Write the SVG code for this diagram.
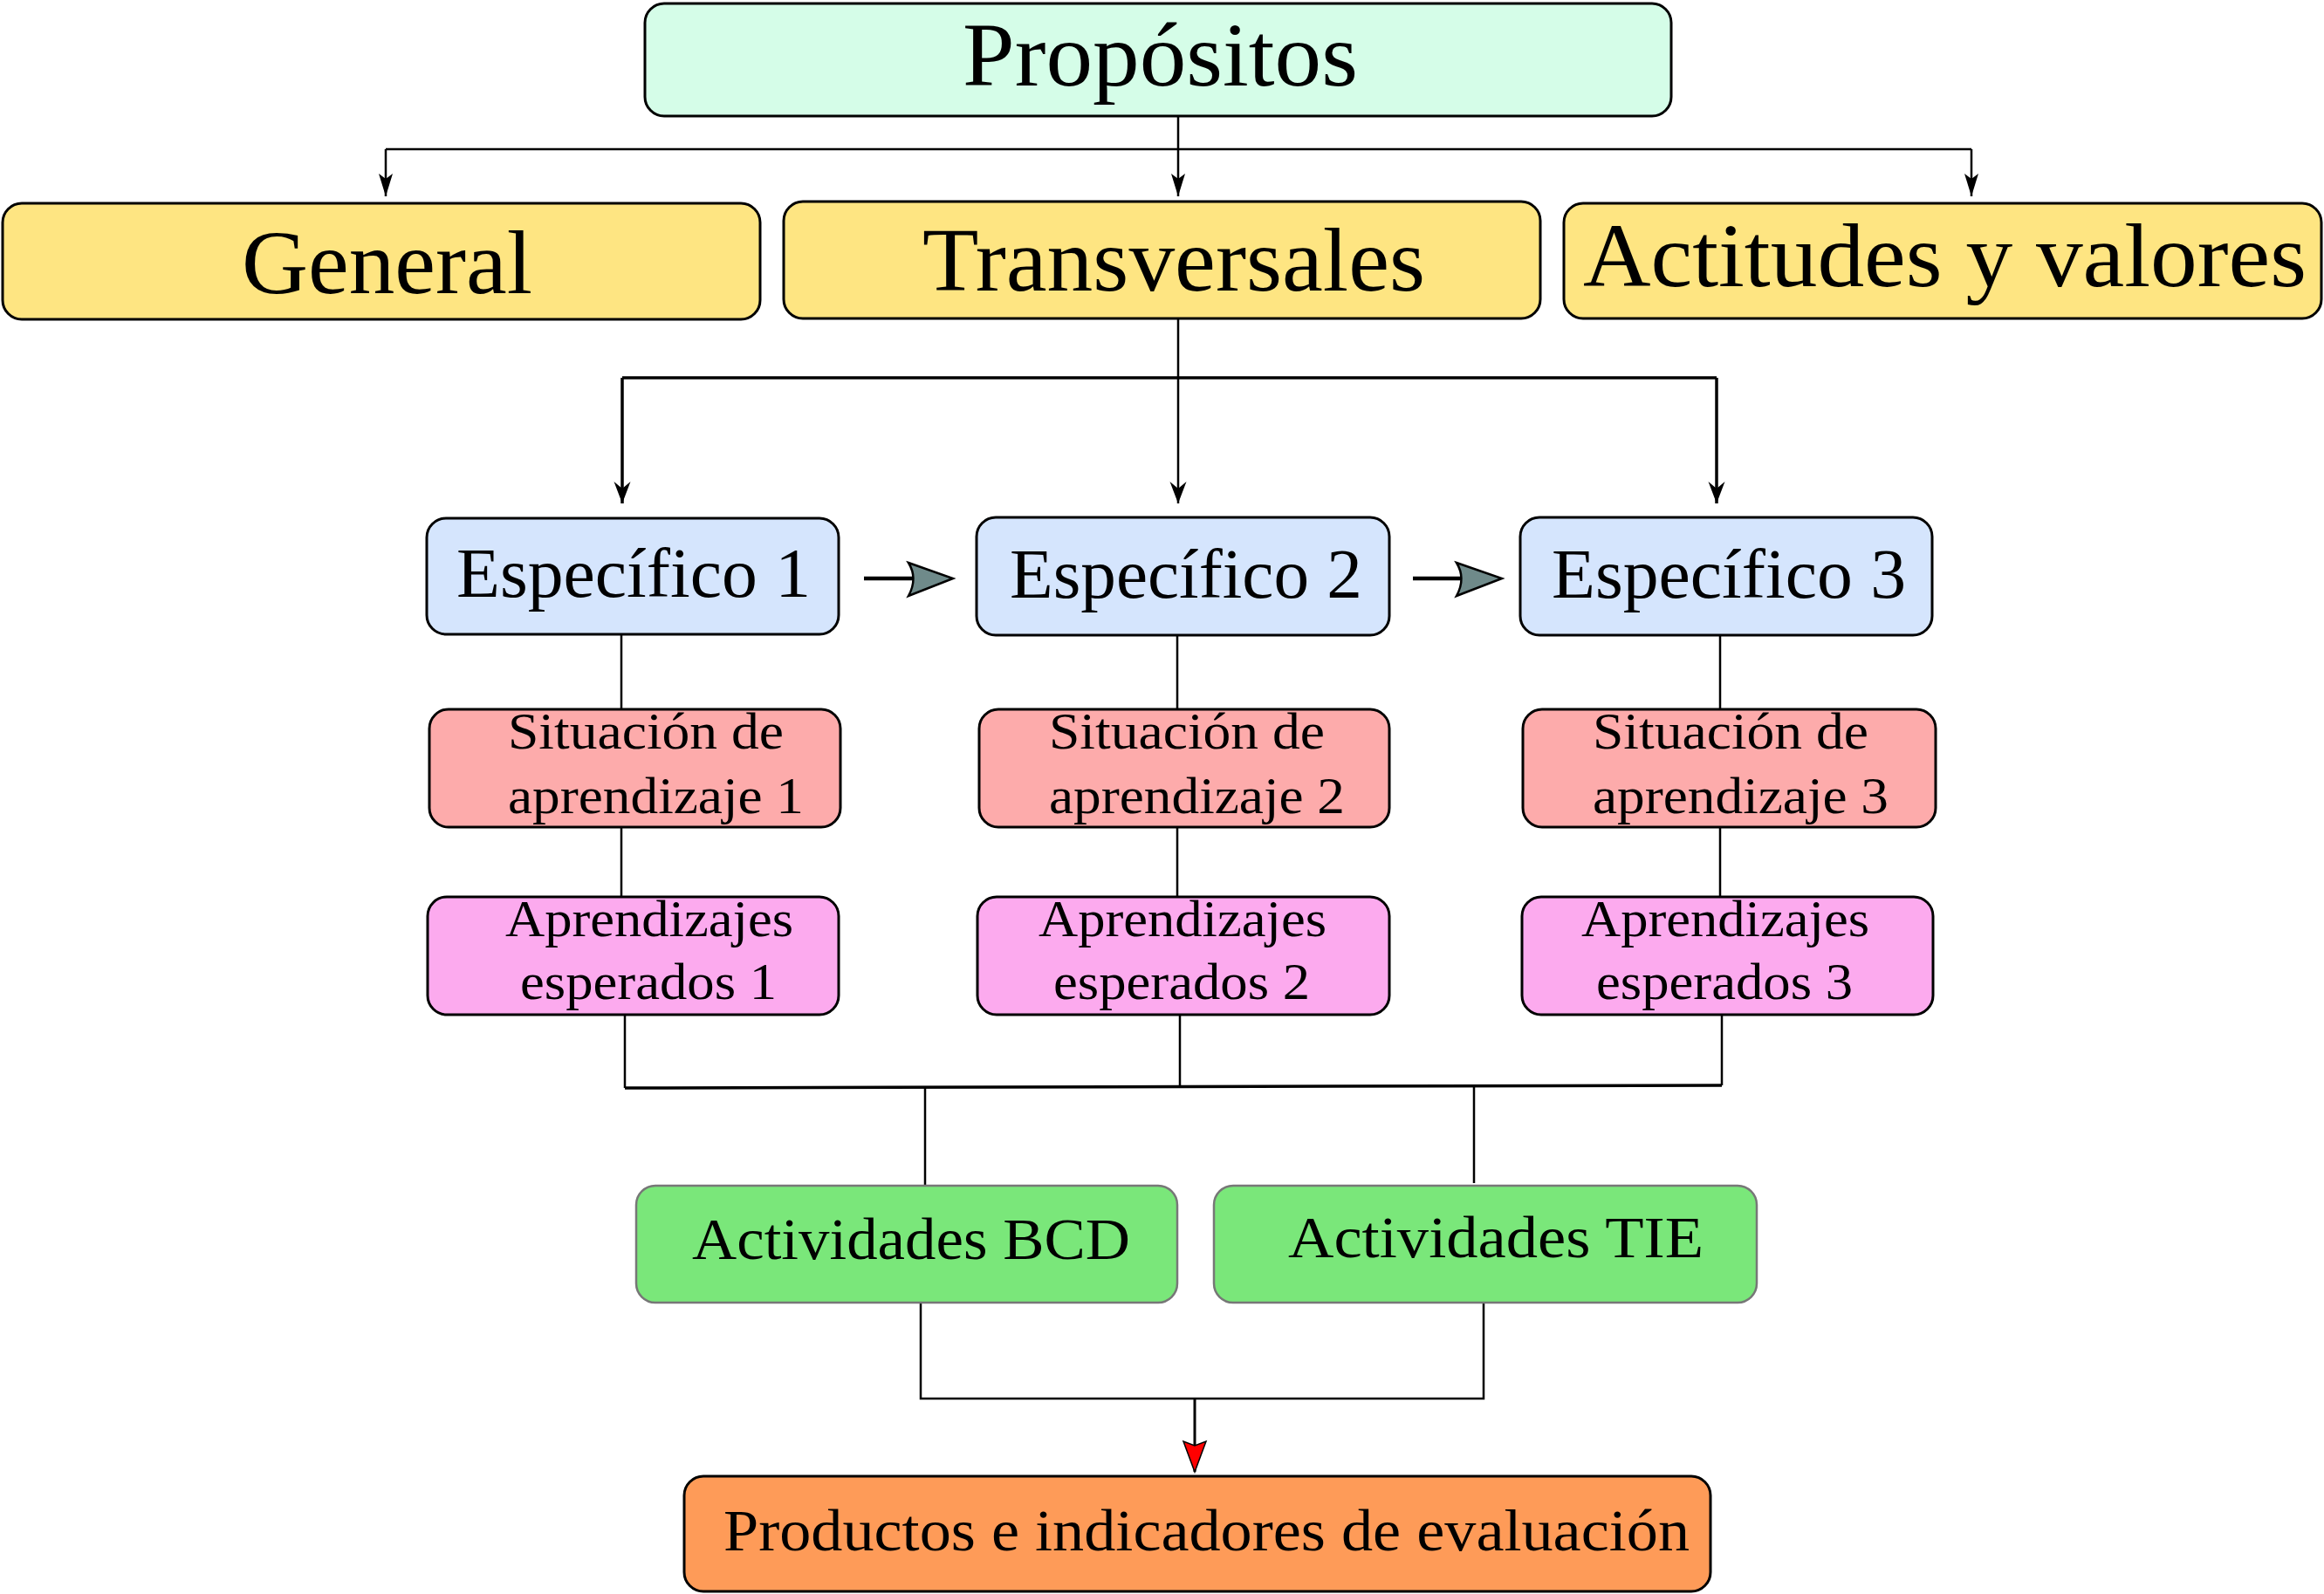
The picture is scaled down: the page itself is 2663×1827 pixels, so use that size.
<svg xmlns="http://www.w3.org/2000/svg" width="2663" height="1827" viewBox="0 0 2663 1827">
<style>
.box{stroke:#000;stroke-width:3}
.t{font-family:"Liberation Serif","Times New Roman",serif;fill:#000}
.big{font-size:103px}
.mid{font-size:80px}
.sm{font-size:60px}
.act{font-size:68px}
.ln{fill:none;stroke:#000;stroke-width:2.5}
.lnb{fill:none;stroke:#000;stroke-width:3.5}
</style>
<defs>
<marker id="a1" markerUnits="userSpaceOnUse" markerWidth="26" markerHeight="16" refX="26" refY="8" orient="auto" overflow="visible">
<path d="M0,0 L26,8 L0,16 L6,8 Z" fill="#000"/>
</marker>
<marker id="a2" markerUnits="userSpaceOnUse" markerWidth="25" markerHeight="19" refX="25" refY="9.5" orient="auto" overflow="visible">
<path d="M0,0 L25,9.5 L0,19 L8,9.5 Z" fill="#000"/>
</marker>
<marker id="ar" markerUnits="userSpaceOnUse" markerWidth="35" markerHeight="26" refX="35" refY="13" orient="auto" overflow="visible">
<path d="M0,0 L35,13 L0,26 L5,13 Z" fill="#ff0000" stroke="#000" stroke-width="1.5"/>
</marker>
</defs>

<g id="connectors">
<path class="ln" d="M1350,133 V225" marker-end="url(#a1)"/>
<path class="ln" d="M442,171 H2259"/>
<path class="ln" d="M442,171 V225" marker-end="url(#a1)"/>
<path class="ln" d="M2259,171 V225" marker-end="url(#a1)"/>

<path class="ln" d="M1350,365 V577" marker-end="url(#a2)"/>
<path class="lnb" d="M713,433 H1967"/>
<path class="lnb" d="M713,433 V577" marker-end="url(#a2)"/>
<path class="lnb" d="M1967,433 V577" marker-end="url(#a2)"/>

<path d="M990,663 H1046" stroke="#000" stroke-width="4.5" fill="none"/>
<path d="M1041,645 L1092,663 L1041,683 Q1052,663 1041,645 Z" fill="#6f8a8a" stroke="#000" stroke-width="2.5"/>
<path d="M1619,663 H1674" stroke="#000" stroke-width="4.5" fill="none"/>
<path d="M1669,645 L1721,663 L1669,683 Q1680,663 1669,645 Z" fill="#6f8a8a" stroke="#000" stroke-width="2.5"/>

<path class="ln" d="M712,728 V813 M712,948 V1028"/>
<path class="ln" d="M1349,728 V813 M1349,948 V1028"/>
<path class="ln" d="M1971,728 V813 M1971,948 V1028"/>

<path class="ln" d="M716,1163 V1247 M1352,1163 V1246 M1973,1163 V1244"/>
<path class="lnb" d="M716,1247 L1973,1244"/>
<path class="ln" d="M1060,1246 V1359 M1689,1245 V1356"/>

<path class="ln" d="M1055,1493 V1603 H1700 V1490"/>
<path d="M1369,1603 V1687" stroke="#000" stroke-width="3" fill="none" marker-end="url(#ar)"/>
</g>

<g id="propositos">
<rect class="box" x="739" y="4" width="1176" height="129" rx="22" fill="#d5fde8"/>
<text class="t big" x="1103" y="98" textLength="453" lengthAdjust="spacingAndGlyphs">Propósitos</text>
</g>
<g id="general">
<rect class="box" x="3" y="233" width="868" height="133" rx="22" fill="#fee582"/>
<text class="t big" x="277" y="336" textLength="333" lengthAdjust="spacingAndGlyphs">General</text>
</g>
<g id="transversales">
<rect class="box" x="898" y="231" width="867" height="134" rx="22" fill="#fee582"/>
<text class="t big" x="1057" y="333" textLength="576" lengthAdjust="spacingAndGlyphs">Transversales</text>
</g>
<g id="actitudes">
<rect class="box" x="1792" y="233" width="868" height="132" rx="22" fill="#fee582"/>
<text class="t big" x="1814" y="328" textLength="829" lengthAdjust="spacingAndGlyphs">Actitudes y valores</text>
</g>

<g id="especifico1">
<rect class="box" x="489" y="594" width="472" height="133" rx="22" fill="#d5e5fd"/>
<text class="t mid" x="523" y="684" textLength="406" lengthAdjust="spacingAndGlyphs">Específico 1</text>
</g>
<g id="especifico2">
<rect class="box" x="1119" y="593" width="473" height="135" rx="22" fill="#d5e5fd"/>
<text class="t mid" x="1157" y="685" textLength="404" lengthAdjust="spacingAndGlyphs">Específico 2</text>
</g>
<g id="especifico3">
<rect class="box" x="1742" y="593" width="472" height="135" rx="22" fill="#d5e5fd"/>
<text class="t mid" x="1778" y="685" textLength="406" lengthAdjust="spacingAndGlyphs">Específico 3</text>
</g>

<g id="situacion1">
<rect class="box" x="492" y="813" width="471" height="135" rx="22" fill="#fdabab"/>
<text class="t sm" x="582" y="858" textLength="316" lengthAdjust="spacingAndGlyphs">Situación de</text>
<text class="t sm" x="582" y="932" textLength="339" lengthAdjust="spacingAndGlyphs">aprendizaje 1</text>
</g>
<g id="situacion2">
<rect class="box" x="1122" y="813" width="470" height="135" rx="22" fill="#fdabab"/>
<text class="t sm" x="1202" y="858" textLength="316" lengthAdjust="spacingAndGlyphs">Situación de</text>
<text class="t sm" x="1202" y="932" textLength="339" lengthAdjust="spacingAndGlyphs">aprendizaje 2</text>
</g>
<g id="situacion3">
<rect class="box" x="1745" y="813" width="473" height="135" rx="22" fill="#fdabab"/>
<text class="t sm" x="1825" y="858" textLength="316" lengthAdjust="spacingAndGlyphs">Situación de</text>
<text class="t sm" x="1825" y="932" textLength="339" lengthAdjust="spacingAndGlyphs">aprendizaje 3</text>
</g>

<g id="aprendizajes1">
<rect class="box" x="490" y="1028" width="471" height="135" rx="22" fill="#fcaaee"/>
<text class="t sm" x="579" y="1073" textLength="330" lengthAdjust="spacingAndGlyphs">Aprendizajes</text>
<text class="t sm" x="596" y="1145" textLength="294" lengthAdjust="spacingAndGlyphs">esperados 1</text>
</g>
<g id="aprendizajes2">
<rect class="box" x="1120" y="1028" width="472" height="135" rx="22" fill="#fcaaee"/>
<text class="t sm" x="1190" y="1073" textLength="330" lengthAdjust="spacingAndGlyphs">Aprendizajes</text>
<text class="t sm" x="1207" y="1145" textLength="294" lengthAdjust="spacingAndGlyphs">esperados 2</text>
</g>
<g id="aprendizajes3">
<rect class="box" x="1744" y="1028" width="471" height="135" rx="22" fill="#fcaaee"/>
<text class="t sm" x="1812" y="1073" textLength="330" lengthAdjust="spacingAndGlyphs">Aprendizajes</text>
<text class="t sm" x="1829" y="1145" textLength="294" lengthAdjust="spacingAndGlyphs">esperados 3</text>
</g>

<g id="bcd">
<rect x="729" y="1359" width="620" height="134" rx="22" fill="#7ae77a" stroke="#777" stroke-width="2.5"/>
<text class="t act" x="793" y="1443" textLength="502" lengthAdjust="spacingAndGlyphs">Actividades BCD</text>
</g>
<g id="tie">
<rect x="1391" y="1359" width="622" height="134" rx="22" fill="#7ae77a" stroke="#777" stroke-width="2.5"/>
<text class="t act" x="1476" y="1441" textLength="476" lengthAdjust="spacingAndGlyphs">Actividades TIE</text>
</g>

<g id="productos">
<rect class="box" x="784" y="1692" width="1176" height="132" rx="22" fill="#fe9b58"/>
<text class="t act" x="829" y="1777" textLength="1107" lengthAdjust="spacingAndGlyphs">Productos e indicadores de evaluación</text>
</g>
</svg>
